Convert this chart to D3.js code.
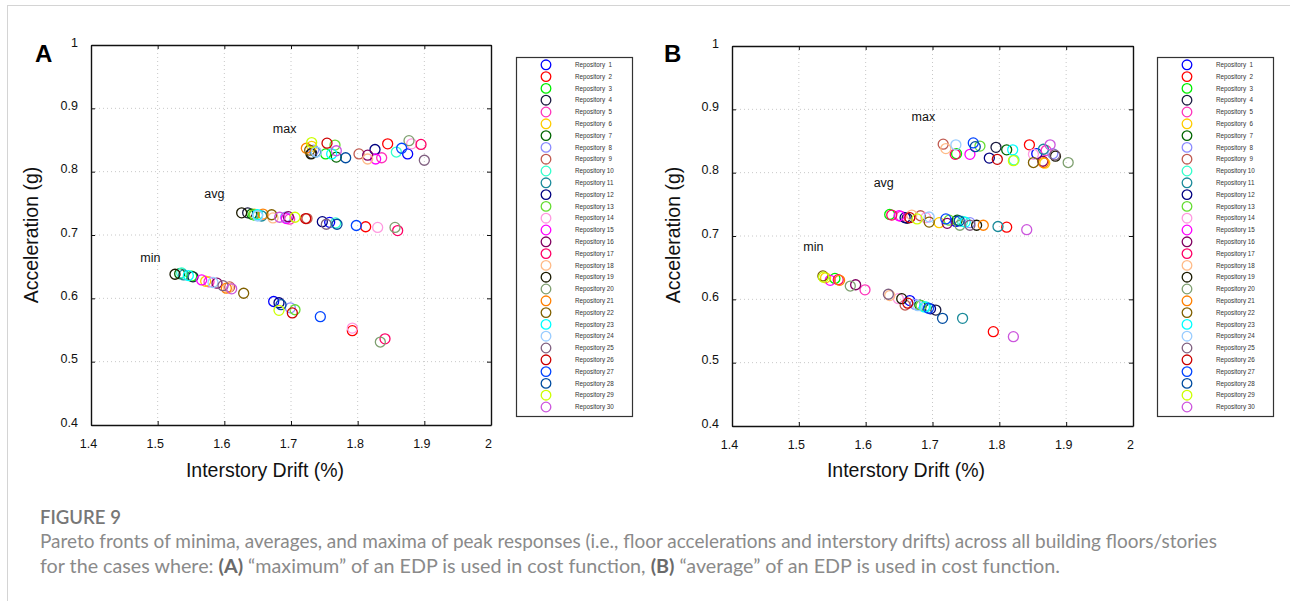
<!DOCTYPE html>
<html>
<head>
<meta charset="utf-8">
<script src="https://cdn.jsdelivr.net/npm/d3@7"></script>
<style>
  html, body { margin: 0; padding: 0; background: #fff; }
  svg { display: block; }
  .leg text { white-space: pre; }
</style>
</head>
<body>
<svg id="chart" width="1290" height="601"></svg>
<script>
// ---------------- DATA ----------------
const repos = d3.range(1, 31).map(i => "Repository " + (i < 10 ? " " + i : String(i)));
const colors = [
  "#0000ff", "#ff0000", "#00ee00", "#1a1a40", "#ff33bb", "#ffcc00", "#006600", "#8c8cff", "#c05a50", "#33ffcc",
  "#1a8a9a", "#000080", "#66dd33", "#ff99e0", "#ff00ff", "#800060", "#ff0066", "#ffbb88", "#1a1a00", "#7fa070",
  "#ff8000", "#806000", "#00ffff", "#99ccff", "#806080", "#cc0000", "#0044ff", "#004ca0", "#ccff00", "#cc55dd"
];
const xTicks = [1.4, 1.5, 1.6, 1.7, 1.8, 1.9, 2];
const xTickLabels = ["1.4", "1.5", "1.6", "1.7", "1.8", "1.9", "2"];
const yTicks = [0.4, 0.5, 0.6, 0.7, 0.8, 0.9, 1];
const yTickLabels = ["0.4", "0.5", "0.6", "0.7", "0.8", "0.9", "1"];

// Panel A (maximum of EDP in cost function)
const aMinX = [1.674,1.792,1.551,1.553,1.577,1.572,1.533,1.699,1.608,1.536,1.539,1.682,1.706,1.792,1.566,1.589,1.841,1.606,1.526,1.834,1.603,1.629,1.546,1.583,1.598,1.702,1.744,1.685,1.682,1.611];
const aMinY = [0.595,0.549,0.635,0.634,0.626,0.627,0.639,0.585,0.618,0.640,0.637,0.593,0.582,0.553,0.629,0.624,0.536,0.617,0.638,0.531,0.616,0.608,0.636,0.625,0.620,0.577,0.571,0.590,0.581,0.615];
const aAvgX = [1.758,1.812,1.644,1.635,1.698,1.645,1.641,1.692,1.724,1.767,1.656,1.747,1.645,1.830,1.693,1.696,1.860,1.673,1.626,1.856,1.658,1.671,1.650,1.650,1.753,1.722,1.798,1.769,1.706,1.683];
const aAvgY = [0.720,0.713,0.732,0.735,0.725,0.733,0.733,0.728,0.726,0.719,0.730,0.721,0.732,0.712,0.726,0.729,0.707,0.727,0.735,0.712,0.733,0.732,0.732,0.730,0.717,0.726,0.715,0.717,0.728,0.728];
const aMaxX = [1.875,1.845,1.752,1.731,1.836,1.731,1.768,1.734,1.802,1.858,1.737,1.826,1.766,1.881,1.827,1.815,1.895,1.815,1.730,1.877,1.723,1.728,1.761,1.738,1.900,1.754,1.866,1.782,1.731,1.768];
const aMaxY = [0.828,0.844,0.828,0.829,0.822,0.840,0.823,0.834,0.828,0.831,0.831,0.835,0.842,0.844,0.820,0.826,0.843,0.820,0.828,0.849,0.837,0.834,0.828,0.831,0.818,0.845,0.837,0.822,0.846,0.833];

// Panel B (average of EDP in cost function)
const bMinX = [1.666,1.791,1.554,1.705,1.599,1.540,1.681,1.674,1.659,1.690,1.745,1.697,1.683,1.649,1.547,1.585,1.559,1.636,1.654,1.577,1.561,1.536,1.688,1.678,1.634,1.663,1.694,1.715,1.537,1.821];
const bMinY = [0.598,0.549,0.633,0.583,0.615,0.634,0.591,0.592,0.591,0.588,0.570,0.585,0.590,0.601,0.630,0.623,0.631,0.606,0.601,0.621,0.630,0.637,0.588,0.590,0.608,0.594,0.586,0.570,0.635,0.541];
const bAvgX = [1.735,1.811,1.636,1.662,1.653,1.710,1.737,1.756,1.682,1.745,1.798,1.659,1.725,1.690,1.650,1.722,1.639,1.669,1.766,1.741,1.776,1.695,1.749,1.695,1.756,1.666,1.720,1.740,1.677,1.841];
const bAvgY = [0.723,0.714,0.734,0.728,0.731,0.721,0.725,0.721,0.732,0.723,0.715,0.729,0.725,0.729,0.732,0.720,0.733,0.733,0.717,0.717,0.717,0.722,0.722,0.730,0.717,0.729,0.727,0.724,0.727,0.710];
const bMaxX = [1.856,1.845,1.736,1.795,1.870,1.868,1.811,1.880,1.716,1.822,1.866,1.785,1.771,1.851,1.756,1.865,1.734,1.720,1.884,1.903,1.866,1.851,1.820,1.735,1.883,1.797,1.761,1.764,1.821,1.876];
const bMaxY = [0.830,0.844,0.830,0.840,0.835,0.815,0.836,0.830,0.845,0.820,0.837,0.823,0.842,0.829,0.829,0.818,0.829,0.838,0.826,0.816,0.816,0.816,0.836,0.844,0.828,0.821,0.847,0.841,0.819,0.844];

const frontLabels = ["min", "avg", "max"];
const aLabelX = [1.489, 1.585, 1.6905];
const aLabelY = [0.6566, 0.7587, 0.861];
const bLabelX = [1.5217, 1.627, 1.6864];
const bLabelY = [0.6766, 0.778, 0.882];

// ---------------- DRAW ----------------
const svg = d3.select("#chart");
const FONT = "'Liberation Sans', Arial, Helvetica, sans-serif";

// page frame
svg.append("line").attr("x1", 7).attr("x2", 1290).attr("y1", 5.5).attr("y2", 5.5).attr("stroke", "#d4d4d4").attr("stroke-width", 1);
svg.append("line").attr("x1", 7.5).attr("x2", 7.5).attr("y1", 5).attr("y2", 601).attr("stroke", "#d4d4d4").attr("stroke-width", 1);

function drawPanel(cfg) {
  const x = d3.scaleLinear().domain([1.4, 2]).range([cfg.left, cfg.right]);
  const y = d3.scaleLinear().domain([0.4, 1]).range([cfg.bottom, cfg.top]);
  const g = svg.append("g");

  // grid (interior ticks)
  g.append("g").selectAll("line").data(xTicks.slice(1, -1)).join("line")
    .attr("x1", d => x(d)).attr("x2", d => x(d)).attr("y1", cfg.top).attr("y2", cfg.bottom)
    .attr("stroke", "#c8c8c8").attr("stroke-width", 1).attr("stroke-dasharray", "1,3");
  g.append("g").selectAll("line").data(yTicks.slice(1, -1)).join("line")
    .attr("y1", d => y(d)).attr("y2", d => y(d)).attr("x1", cfg.left).attr("x2", cfg.right)
    .attr("stroke", "#c8c8c8").attr("stroke-width", 1).attr("stroke-dasharray", "1,3");

  // axes with inward ticks
  const axB = d3.axisBottom(x).tickValues(xTicks).tickSizeInner(-4).tickSizeOuter(0).tickFormat((d, i) => xTickLabels[i]).tickPadding(12);
  const axT = d3.axisTop(x).tickValues(xTicks).tickSizeInner(-4).tickSizeOuter(0).tickFormat("");
  const axL = d3.axisLeft(y).tickValues(yTicks).tickSizeInner(-4).tickSizeOuter(0).tickFormat((d, i) => yTickLabels[i]).tickPadding(13);
  const axR = d3.axisRight(y).tickValues(yTicks).tickSizeInner(-4).tickSizeOuter(0).tickFormat("");

  const gb = g.append("g").attr("transform", `translate(0,${cfg.bottom})`).call(axB);
  const gt = g.append("g").attr("transform", `translate(0,${cfg.top})`).call(axT);
  const gl = g.append("g").attr("transform", `translate(${cfg.left},0)`).call(axL);
  const gr = g.append("g").attr("transform", `translate(${cfg.right},0)`).call(axR);
  [gb, gt, gl, gr].forEach(a => {
    a.select(".domain").attr("stroke", "#111").attr("stroke-width", 1.4);
    a.selectAll(".tick line").attr("stroke", "#111").attr("stroke-width", 1);
    a.selectAll(".tick text").attr("font-family", FONT).attr("font-size", 12.5).attr("fill", "#111");
  });
  gb.selectAll(".tick text").attr("dx", -3).attr("dy", "0.9em");
  gl.selectAll(".tick text").attr("dy", "0.1em");

  // axis titles
  svg.append("text").attr("x", cfg.xTitleX).attr("y", 477).attr("text-anchor", "middle")
    .attr("font-family", FONT).attr("font-size", 19.5).attr("fill", "#111").text("Interstory Drift (%)");
  svg.append("text").attr("transform", `translate(${cfg.yTitleX},235) rotate(-90)`).attr("text-anchor", "middle")
    .attr("dominant-baseline", "central")
    .attr("font-family", FONT).attr("font-size", 19.5).attr("fill", "#111").text("Acceleration (g)");

  // panel letter
  svg.append("text").attr("x", cfg.letterX).attr("y", 62).attr("font-family", FONT).attr("font-weight", "bold")
    .attr("font-size", 24).attr("fill", "#000").text(cfg.letter);

  // points
  const fronts = [[cfg.minX, cfg.minY], [cfg.avgX, cfg.avgY], [cfg.maxX, cfg.maxY]];
  fronts.forEach(([fx, fy]) => {
    g.append("g").selectAll("circle").data(d3.range(repos.length)).join("circle")
      .attr("cx", i => x(fx[i])).attr("cy", i => y(fy[i])).attr("r", 5)
      .attr("fill", "none").attr("stroke", i => colors[i]).attr("stroke-width", 1.3);
  });

  // front labels
  g.append("g").selectAll("text").data(frontLabels).join("text")
    .attr("x", (d, i) => x(cfg.labX[i])).attr("y", (d, i) => y(cfg.labY[i]))
    .attr("text-anchor", "middle").attr("font-family", FONT).attr("font-size", 12.5).attr("fill", "#111")
    .text(d => d);

  // legend
  const leg = svg.append("g").attr("class", "leg").attr("transform", `translate(${cfg.legX},57)`);
  leg.append("rect").attr("x", 0.5).attr("y", 0.5).attr("width", 116).attr("height", 359)
    .attr("fill", "#fff").attr("stroke", "#333").attr("stroke-width", 1.2);
  const ly = d3.scaleLinear().domain([0, 29]).range([7.8, 350]);
  const rows = leg.selectAll("g.row").data(repos).join("g").attr("class", "row")
    .attr("transform", (d, i) => `translate(0,${ly(i)})`);
  rows.append("circle").attr("cx", 30).attr("cy", 0).attr("r", 4.8).attr("fill", "none")
    .attr("stroke", (d, i) => colors[i]).attr("stroke-width", 1.3);
  rows.append("text").attr("x", 59).attr("y", 0).attr("dy", "0.35em")
    .attr("font-family", FONT).attr("font-size", 6.3).attr("fill", "#333").text(d => d);
}

drawPanel({
  letter: "A", letterX: 35, left: 91, right: 491, top: 45, bottom: 425,
  xTitleX: 265, yTitleX: 31, legX: 516,
  minX: aMinX, minY: aMinY, avgX: aAvgX, avgY: aAvgY, maxX: aMaxX, maxY: aMaxY,
  labX: aLabelX, labY: aLabelY
});
drawPanel({
  letter: "B", letterX: 664, left: 732, right: 1133, top: 46, bottom: 426,
  xTitleX: 906, yTitleX: 673, legX: 1157,
  minX: bMinX, minY: bMinY, avgX: bAvgX, avgY: bAvgY, maxX: bMaxX, maxY: bMaxY,
  labX: bLabelX, labY: bLabelY
});

// caption
const CAP = "Lato, 'Open Sans', sans-serif";
function fitWidth(sel, target) {
  const w = sel.node().getBBox().width;
  const fs = parseFloat(sel.attr("font-size"));
  sel.attr("font-size", fs * target / w);
}
const fig = svg.append("text").attr("x", 40).attr("y", 524).attr("font-family", CAP).attr("font-weight", 600)
  .attr("font-size", 17).attr("fill", "#777").text("FIGURE 9");
fitWidth(fig, 81);
const l1 = svg.append("text").attr("x", 40).attr("y", 548).attr("font-family", CAP).attr("font-size", 16)
  .attr("fill", "#8a8a8a")
  .text("Pareto fronts of minima, averages, and maxima of peak responses (i.e., floor accelerations and interstory drifts) across all building floors/stories");
fitWidth(l1, 1178);
const l2 = svg.append("text").attr("x", 40).attr("y", 572.5).attr("font-family", CAP).attr("font-size", 16)
  .attr("fill", "#8a8a8a");
l2.append("tspan").text("for the cases where: ");
l2.append("tspan").attr("font-weight", "bold").attr("fill", "#6a6a6a").text("(A)");
l2.append("tspan").text(" \u201cmaximum\u201d of an EDP is used in cost function, ");
l2.append("tspan").attr("font-weight", "bold").attr("fill", "#6a6a6a").text("(B)");
l2.append("tspan").text(" \u201caverage\u201d of an EDP is used in cost function.");
fitWidth(l2, 1020);
</script>
</body>
</html>
